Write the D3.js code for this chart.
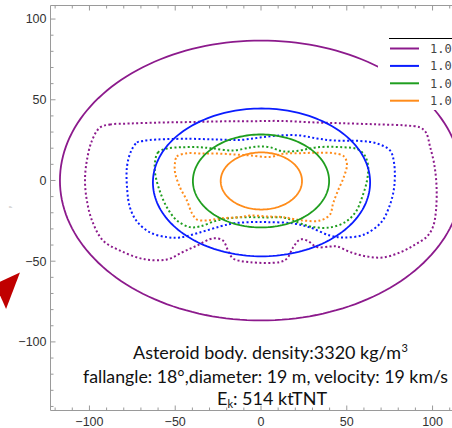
<!DOCTYPE html>
<html>
<head>
<meta charset="utf-8">
<script src="https://cdn.jsdelivr.net/npm/d3@7"></script>
<style>
  html, body { margin: 0; padding: 0; background: #fff; overflow: hidden; }
  svg { display: block; }
</style>
</head>
<body>
<svg id="chart" width="452" height="428"></svg>
<script>
// ---- data -------------------------------------------------------------
const seriesLabels = ["1.0", "1.0", "1.0", "1.0"];

// analytic zone ellipses (km): centre and semi-axes
const ellipseCenterX = [0, 0.3, 0, 0.2];
const ellipseCenterY = [0, -1.2, -0.3, -0.3];
const ellipseSemiX   = [117.2, 63.3, 39.7, 23.7];
const ellipseSemiY   = [86.7, 45.8, 28.8, 17.7];

// simulated damage contours (km)
const purpleContour = [
  [-93.9,32.8],[-88.0,34.7],[-76.4,35.3],[-58.9,35.9],[-41.4,36.2],[-23.9,36.6],[-6.4,36.7],
  [11.1,36.9],[32.7,35.9],[51.9,35.3],[69.4,34.7],[84.0,34.1],[92.7,32.8],[96.2,29.7],
  [98.5,21.1],[100.9,10.5],[102.3,-3.1],[102.0,-18.6],[100.3,-28.5],[96.8,-34.7],[89.8,-39.7],
  [81.0,-44.6],[71.1,-47.7],[61.8,-47.1],[51.9,-44.3],[44.3,-40.9],[40.2,-40.9],[32.7,-41.3],
  [26.8,-37.2],[22.7,-36.6],[18.7,-41.5],[15.2,-48.3],[11.1,-50.5],[-6.4,-50.6],[-16.3,-48.3],
  [-19.2,-43.4],[-22.2,-37.2],[-28.0,-35.9],[-37.3,-40.3],[-45.5,-44.3],[-54.8,-48.9],
  [-68.8,-48.6],[-82.2,-43.4],[-92.1,-37.2],[-98.5,-24.8],[-101.5,-12.4],[-102.6,0],
  [-101.5,12.4],[-98.5,24.8]
];
const blueContour = [
  [-75.8,18.0],[-72.3,23.5],[-68.8,24.5],[-60.6,25.4],[-41.4,25.8],[-25.7,25.4],[-12.2,25.1],
  [-0.6,26.6],[11.1,27.9],[22.7,27.9],[32.7,26.0],[42.0,24.8],[57.7,24.5],[67.6,22.9],
  [75.2,18.6],[77.6,10.5],[77.6,-4.3],[74.6,-16.7],[70.0,-26.0],[60.1,-33.5],[48.4,-35.3],
  [40.2,-34.1],[28.6,-29.1],[18.7,-26.6],[3.5,-25.8],[-6.4,-25.8],[-16.3,-26.6],[-23.9,-28.5],
  [-35.6,-32.2],[-47.2,-35.3],[-54.8,-35.1],[-64.7,-32.2],[-72.3,-25.4],[-76.4,-16.7],
  [-78.1,-4.3],[-78.1,8.7]
];
const greenContour = [
  [-61.8,11.2],[-60.1,17.3],[-54.8,19.8],[-45.5,20.6],[-35.6,20.6],[-28.0,19.8],[-16.3,18.6],
  [-6.4,20.4],[-0.6,21.1],[5.2,20.6],[12.8,18.0],[22.7,18.6],[32.7,20.6],[47.8,20.6],
  [56.0,19.5],[60.1,16.1],[62.4,9.3],[61.8,0],[58.9,-10.5],[55.4,-19.2],[49.6,-25.4],
  [40.2,-29.1],[28.6,-28.5],[18.7,-24.8],[12.8,-22.9],[3.5,-22.9],[-6.4,-22.7],[-16.3,-23.1],
  [-25.7,-24.8],[-35.6,-28.5],[-41.4,-28.9],[-49.0,-24.8],[-54.8,-16.7],[-59.5,-5.0],[-61.8,5.0]
];
const orangeContour = [
  [-50.1,11.2],[-49.0,14.9],[-43.2,16.9],[-35.6,16.7],[-25.7,16.7],[-15.2,16.1],[-6.4,15.5],
  [5.2,14.6],[12.8,16.5],[22.7,16.9],[32.7,17.2],[42.0,16.9],[48.4,14.9],[50.1,9.9],
  [48.4,2.5],[44.9,-6.2],[42.0,-14.3],[40.2,-21.1],[34.4,-24.8],[24.5,-24.8],[12.8,-22.7],
  [3.5,-22.3],[-6.4,-21.7],[-12.2,-22.7],[-23.9,-23.5],[-31.5,-24.8],[-37.3,-24.2],
  [-40.2,-20.4],[-43.2,-12.4],[-47.2,-4.3],[-50.1,5.0]
];
const contours = [purpleContour, blueContour, greenContour, orangeContour];

// direction marker (km), sits left of the frame
const windArrow = [[-140.5,-57.0],[-148.6,-79.6],[-155.0,-64.1]];

const majorTicks = [-100, -50, 0, 50, 100];
const infoLine1 = "Asteroid body. density:3320 kg/m";
const infoLine1Sup = "3";
const infoLine2 = "fallangle: 18°,diameter: 19 m, velocity: 19 km/s";
const infoLine3a = "E";
const infoLine3Sub = "k";
const infoLine3b = ": 514 ktTNT";

// ---- styling ----------------------------------------------------------
const colors = ["#8c1a8c", "#0a1cff", "#1f9e1f", "#ff8c1a"];
const frameColor = "#9a9a9a";
const labelFont = "'Liberation Sans', Arial, sans-serif";

// ---- scales -----------------------------------------------------------
const svg = d3.select("#chart");
const x = d3.scaleLinear().domain([-122.7, 122.7]).range([50.5, 471.5]);
const y = d3.scaleLinear().domain([-142.5, 108.4]).range([410.5, 5.5]);

const fmt = v => (v < 0 ? "\u2212" + Math.abs(v) : String(v));

// ---- frame and ticks -----------------------------------------------
const frame = svg.append("g").attr("stroke", frameColor).attr("fill", "none").attr("stroke-width", 1);
frame.append("line").attr("x1", x.range()[0]).attr("x2", x.range()[0]).attr("y1", y.range()[0]).attr("y2", y.range()[1]);
frame.append("line").attr("x1", x.range()[0]).attr("x2", x.range()[1]).attr("y1", y.range()[0]).attr("y2", y.range()[0]);
frame.append("line").attr("x1", x.range()[0]).attr("x2", x.range()[1]).attr("y1", y.range()[1]).attr("y2", y.range()[1]);

const xMinor = d3.range(-120, 121, 10);
const yMinor = d3.range(-140, 101, 10);
const isMajor = v => v % 50 === 0;

xMinor.forEach(v => {
  const len = isMajor(v) ? 5 : 3;
  frame.append("line").attr("x1", x(v)).attr("x2", x(v)).attr("y1", y.range()[0]).attr("y2", y.range()[0] - len);
  frame.append("line").attr("x1", x(v)).attr("x2", x(v)).attr("y1", y.range()[1]).attr("y2", y.range()[1] + len);
});
yMinor.forEach(v => {
  const len = isMajor(v) ? 5 : 3;
  frame.append("line").attr("x1", x.range()[0]).attr("x2", x.range()[0] + len).attr("y1", y(v)).attr("y2", y(v));
});

const tl = svg.append("g").attr("font-family", labelFont).attr("font-size", 12.5).attr("fill", "#333");
majorTicks.forEach(v => {
  tl.append("text").attr("x", x(v)).attr("y", y.range()[0] + 15).attr("text-anchor", "middle").text(fmt(v));
  tl.append("text").attr("x", x.range()[0] - 4).attr("y", y(v)).attr("dy", "0.35em").attr("text-anchor", "end").text(fmt(v));
});

// faint axis name
svg.append("text").attr("transform", `translate(11,207) rotate(-90)`)
  .attr("font-family", labelFont).attr("font-size", 4).attr("fill", "#aaa")
  .attr("text-anchor", "middle").text("y");

// ---- marks --------------------------------------------------------
const plot = svg.append("g");
const ellipseLine = d3.line().x(d => x(d[0])).y(d => y(d[1])).curve(d3.curveLinearClosed);
const contourLine = d3.line().x(d => x(d[0])).y(d => y(d[1])).curve(d3.curveCatmullRomClosed.alpha(0.5));

contours.forEach((c, i) => {
  plot.append("path").attr("d", contourLine(c)).attr("fill", "none")
    .attr("stroke", colors[i]).attr("stroke-width", 2).attr("stroke-dasharray", "2,2.4");
});

ellipseSemiX.forEach((a, i) => {
  const b = ellipseSemiY[i], cx = ellipseCenterX[i], cy = ellipseCenterY[i];
  const pts = d3.range(0, 360, 2).map(t => {
    const r = t * Math.PI / 180;
    return [cx + a * Math.cos(r), cy + b * Math.sin(r)];
  });
  plot.append("path").attr("d", ellipseLine(pts)).attr("fill", "none")
    .attr("stroke", colors[i]).attr("stroke-width", 1.8);
});

// direction marker
svg.append("path").attr("d", d3.line().x(d => x(d[0])).y(d => y(d[1])).curve(d3.curveLinearClosed)(windArrow))
  .attr("fill", "#c00000");

// ---- legend -------------------------------------------------------
const lg = svg.append("g");
lg.append("rect").attr("x", 378).attr("y", 38).attr("width", 90).attr("height", 72).attr("fill", "#fff");
lg.append("line").attr("x1", 389).attr("x2", 470).attr("y1", 38.5).attr("y2", 38.5).attr("stroke", "#000").attr("stroke-width", 1.2);
seriesLabels.forEach((s, i) => {
  const yy = 48.5 + i * 17.4;
  lg.append("line").attr("x1", 390).attr("x2", 419).attr("y1", yy).attr("y2", yy)
    .attr("stroke", colors[i]).attr("stroke-width", 2);
  lg.append("text").attr("x", 430).attr("y", yy).attr("dy", "0.35em")
    .attr("font-family", "'DejaVu Sans Mono', monospace").attr("font-size", 12)
    .attr("fill", "#444").text(s);
});

// ---- info text ------------------------------------------------------
const info = svg.append("g").attr("font-family", "Lato, 'Open Sans', sans-serif").attr("font-size", 18).attr("fill", "#111");
info.append("text").attr("x", 133).attr("y", 359).attr("textLength", 268).attr("lengthAdjust", "spacingAndGlyphs").text(infoLine1);
info.append("text").attr("x", 401.5).attr("y", 352).attr("font-size", 11).text(infoLine1Sup);
info.append("text").attr("x", 83).attr("y", 383).attr("textLength", 365).attr("lengthAdjust", "spacingAndGlyphs").text(infoLine2);
const l3 = info.append("text").attr("x", 217).attr("y", 405);
l3.append("tspan").text(infoLine3a);
l3.append("tspan").attr("font-size", 11).attr("dy", 3).text(infoLine3Sub);
l3.append("tspan").attr("dy", -3).text(infoLine3b);
</script>
</body>
</html>
